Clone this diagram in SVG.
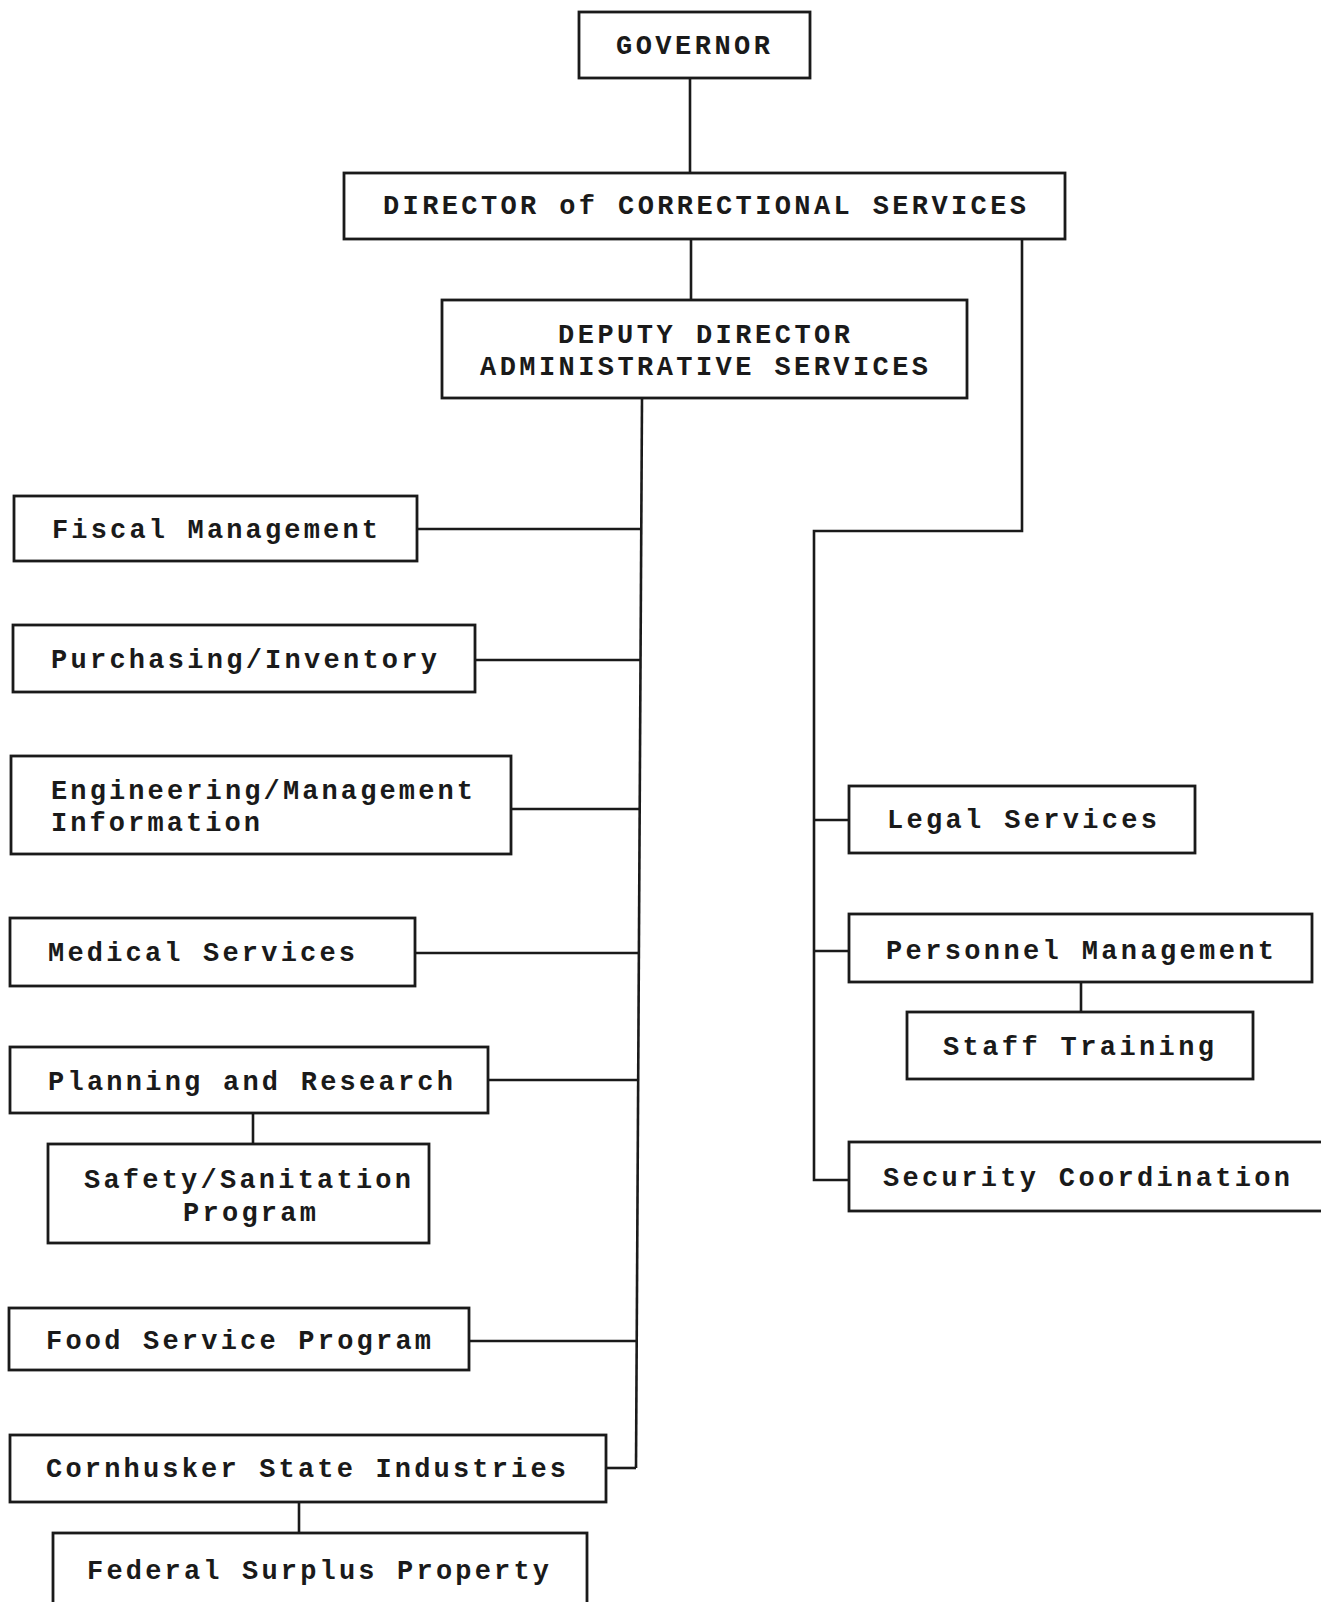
<svg xmlns="http://www.w3.org/2000/svg" width="1321" height="1602" viewBox="0 0 1321 1602">
<style>
rect.box{fill:#fff;stroke:#1a1a1a;stroke-width:2.8}
.conn path{fill:none;stroke:#1a1a1a;stroke-width:2.6}
text{font-family:"Liberation Mono","DejaVu Sans Mono",monospace;font-size:27px;font-weight:bold;fill:#1a1a1a}
</style>
<rect width="1321" height="1602" fill="#fff"/>
<g class="conn">
<path d="M690 78 V173"/>
<path d="M691 239 V300"/>
<path d="M1022 239 V531 H814 V1180 H849"/>
<path d="M814 820 H849"/>
<path d="M814 951 H849"/>
<path d="M1081 982 V1012"/>
<path d="M642 398 L636 1468"/>
<path d="M417 529 H641"/>
<path d="M475 660 H640"/>
<path d="M511 809 H639"/>
<path d="M415 953 H638"/>
<path d="M488 1080 H638"/>
<path d="M469 1341 H636"/>
<path d="M606 1468 H636"/>
<path d="M253 1113 V1144"/>
<path d="M299 1502 V1533"/>
</g>
<g id="governor"><rect class="box" x="579" y="12" width="231" height="66"/><text x="616" y="54" textLength="154" lengthAdjust="spacing">GOVERNOR</text></g>
<g id="director"><rect class="box" x="344" y="173" width="721" height="66"/><text x="383" y="214" textLength="643" lengthAdjust="spacing">DIRECTOR of CORRECTIONAL SERVICES</text></g>
<g id="deputy"><rect class="box" x="442" y="300" width="525" height="98"/><text x="558" y="343" textLength="292" lengthAdjust="spacing">DEPUTY DIRECTOR</text><text x="480" y="375" textLength="448" lengthAdjust="spacing">ADMINISTRATIVE SERVICES</text></g>
<g id="fiscal"><rect class="box" x="14" y="496" width="403" height="65"/><text x="52" y="538" textLength="326" lengthAdjust="spacing">Fiscal Management</text></g>
<g id="purchasing"><rect class="box" x="13" y="625" width="462" height="67"/><text x="51" y="668" textLength="386" lengthAdjust="spacing">Purchasing/Inventory</text></g>
<g id="engineering"><rect class="box" x="11" y="756" width="500" height="98"/><text x="51" y="799" textLength="422" lengthAdjust="spacing">Engineering/Management</text><text x="51" y="831" textLength="209" lengthAdjust="spacing">Information</text></g>
<g id="medical"><rect class="box" x="10" y="918" width="405" height="68"/><text x="48" y="961" textLength="307" lengthAdjust="spacing">Medical Services</text></g>
<g id="planning"><rect class="box" x="10" y="1047" width="478" height="66"/><text x="48" y="1090" textLength="405" lengthAdjust="spacing">Planning and Research</text></g>
<g id="safety"><rect class="box" x="48" y="1144" width="381" height="99"/><text x="84" y="1188" textLength="327" lengthAdjust="spacing">Safety/Sanitation</text><text x="183" y="1221" textLength="133" lengthAdjust="spacing">Program</text></g>
<g id="food"><rect class="box" x="9" y="1308" width="460" height="62"/><text x="46" y="1349" textLength="385" lengthAdjust="spacing">Food Service Program</text></g>
<g id="cornhusker"><rect class="box" x="10" y="1435" width="596" height="67"/><text x="46" y="1477" textLength="520" lengthAdjust="spacing">Cornhusker State Industries</text></g>
<g id="federal"><rect class="box" x="53" y="1533" width="534" height="80"/><text x="87" y="1579" textLength="462" lengthAdjust="spacing">Federal Surplus Property</text></g>
<g id="legal"><rect class="box" x="849" y="786" width="346" height="67"/><text x="887" y="828" textLength="270" lengthAdjust="spacing">Legal Services</text></g>
<g id="personnel"><rect class="box" x="849" y="914" width="463" height="68"/><text x="886" y="959" textLength="388" lengthAdjust="spacing">Personnel Management</text></g>
<g id="staff"><rect class="box" x="907" y="1012" width="346" height="67"/><text x="943" y="1055" textLength="271" lengthAdjust="spacing">Staff Training</text></g>
<g id="security"><rect class="box" x="849" y="1142" width="480" height="69"/><text x="883" y="1186" textLength="407" lengthAdjust="spacing">Security Coordination</text></g>
</svg>
